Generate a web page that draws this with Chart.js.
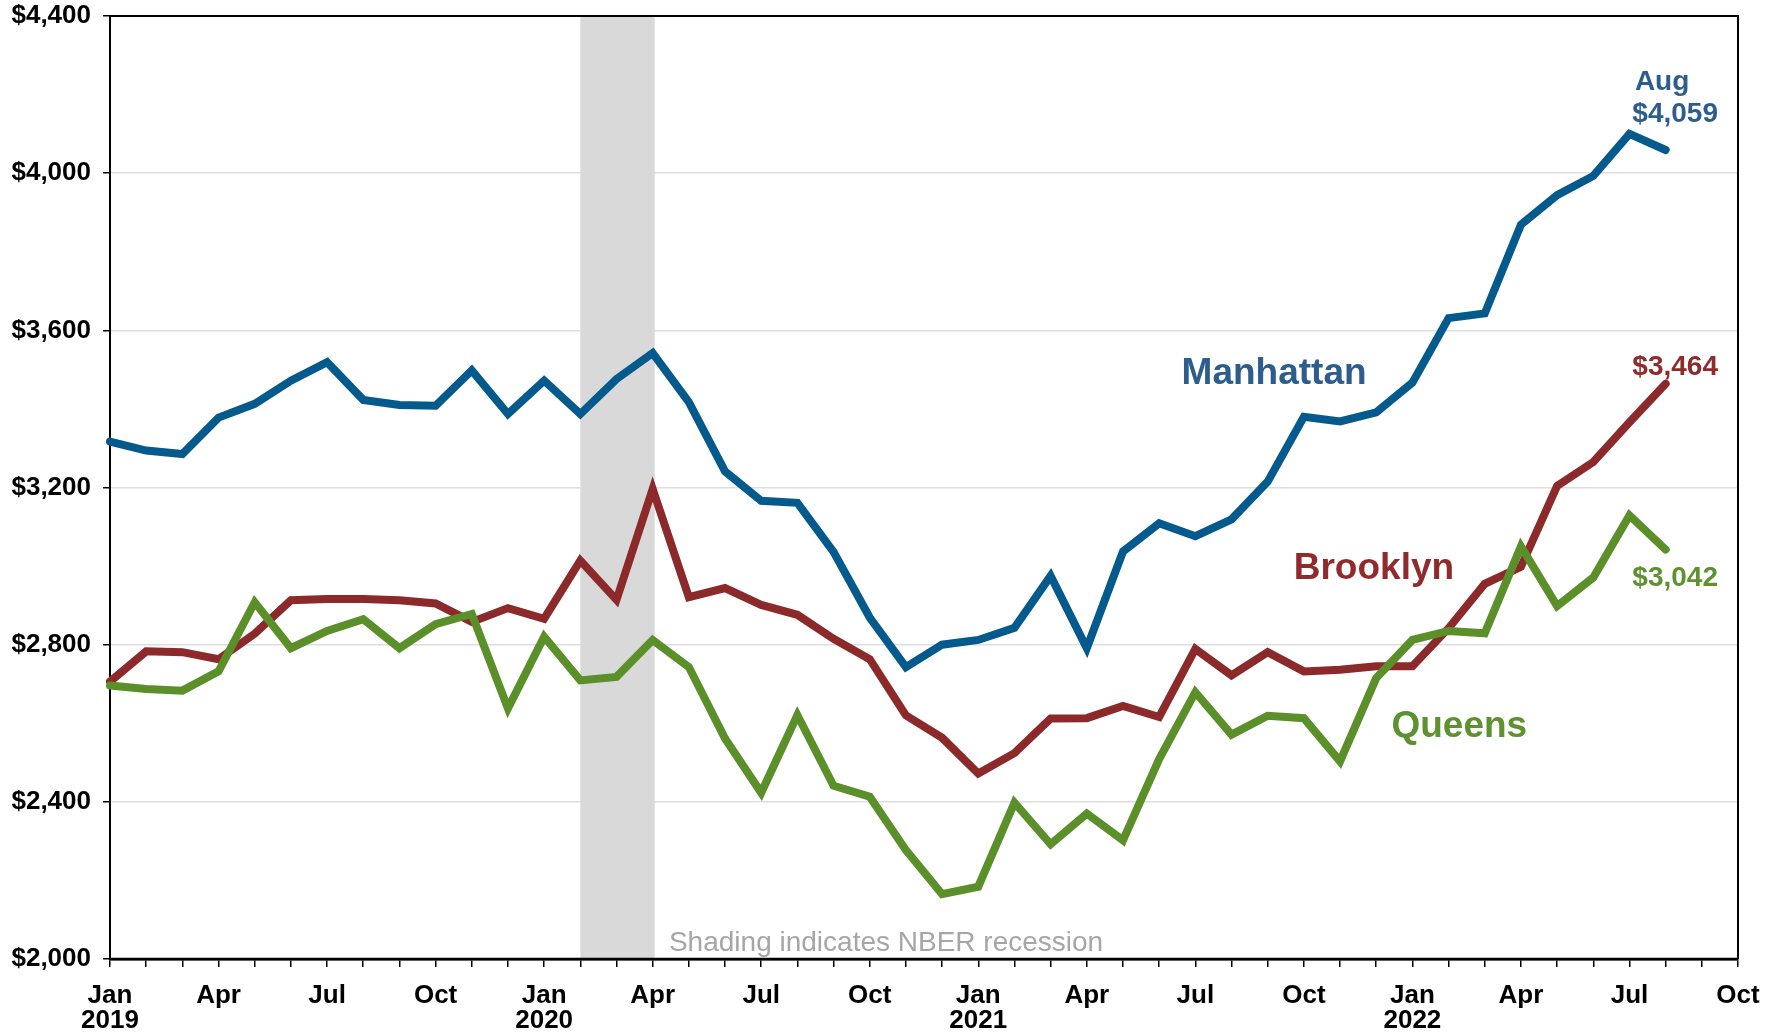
<!DOCTYPE html>
<html>
<head>
<meta charset="utf-8">
<title>Median asking rent by borough</title>
<script src="https://cdn.jsdelivr.net/npm/chart.js@4.4.0/dist/chart.umd.min.js"></script>
<style>
    html, body { margin: 0; padding: 0; background: #fff; }
    #wrap { width: 1781px; height: 1034px; }
</style>
</head>
<body>
<div id="wrap"><canvas id="rentChart" width="1781" height="1034"></canvas></div>
<script>
// Months on the x axis: Jan 2019 .. Oct 2022 (data stops at Aug 2022)
var monthNames = ['Jan', 'Feb', 'Mar', 'Apr', 'May', 'Jun', 'Jul', 'Aug', 'Sep', 'Oct', 'Nov', 'Dec'];
var years = ['2019', '2020', '2021', '2022'];
var months = [];
years.forEach(function (yr) {
    monthNames.forEach(function (m) {
        if (months.length < 46) months.push(m + ' ' + yr);
    });
});

// Median asking rent, dollars per month
var manhattan = [3317, 3294, 3285, 3378, 3413, 3472, 3519, 3423, 3410, 3408, 3498, 3387,
                 3472, 3387, 3476, 3542, 3417, 3241, 3166, 3161, 3036, 2869, 2743, 2800,
                 2812, 2843, 2975, 2791, 3037, 3109, 3076, 3119, 3215, 3380, 3368, 3391,
                 3467, 3631, 3643, 3869, 3944, 3993, 4100, 4059];
var brooklyn = [2706, 2783, 2781, 2763, 2828, 2913, 2916, 2916, 2913, 2905, 2858, 2893,
                2866, 3014, 2914, 3196, 2921, 2944, 2901, 2876, 2815, 2763, 2620, 2563,
                2472, 2524, 2612, 2613, 2644, 2616, 2789, 2722, 2781, 2732, 2736, 2745,
                2745, 2842, 2955, 2998, 3204, 3265, 3366, 3464];
var queens = [2696, 2687, 2683, 2732, 2908, 2791, 2835, 2865, 2791, 2852, 2878, 2638,
              2820, 2709, 2718, 2812, 2743, 2561, 2423, 2621, 2441, 2413, 2277, 2165,
              2184, 2398, 2292, 2370, 2302, 2509, 2679, 2571, 2619, 2613, 2503, 2715,
              2812, 2835, 2829, 3050, 2898, 2971, 3129, 3042];

// NBER recession: Feb 2020 - Apr 2020 (month indexes)
var recession = [13, 15];

var yTicks = [2000, 2400, 2800, 3200, 3600, 4000, 4400];

var BLUE = '#045a8d', BLUE_TXT = '#2c5d8c';
var RED = '#8c2a2b', RED_TXT = '#8f2b2c';
var GREEN = '#5b8f29', GREEN_TXT = '#5e9130';
var FONT = "'Liberation Sans', Arial, Helvetica, sans-serif";

Chart.defaults.font.family = FONT;

function money(v) {
    return '$' + v.toLocaleString('en-US');
}

// grey recession band + plot frame, under the lines
var bandPlugin = {
    id: 'band',
    beforeDatasetsDraw: function (chart) {
        var c = chart.ctx, a = chart.chartArea, x = chart.scales.x;
        var x0 = x.getPixelForValue(recession[0]);
        var x1 = x.getPixelForValue(recession[1]) + 2;
        c.save();
        c.fillStyle = '#d9d9d9';
        c.fillRect(x0, a.top, x1 - x0, a.bottom - a.top);

        c.strokeStyle = '#000';
        c.lineWidth = 2;
        c.beginPath();
        c.moveTo(a.left, a.top);
        c.lineTo(a.right, a.top);
        c.lineTo(a.right, a.bottom);
        c.stroke();
        c.beginPath();
        c.moveTo(a.left, a.top);
        c.lineTo(a.left, a.bottom);
        c.stroke();
        c.lineWidth = 2.5;
        c.beginPath();
        c.moveTo(a.left, a.bottom);
        c.lineTo(a.right, a.bottom);
        c.stroke();

        // note about shading
        c.fillStyle = '#a6a6a6';
        c.font = '28px ' + FONT;
        c.textAlign = 'left';
        c.textBaseline = 'alphabetic';
        c.fillText('Shading indicates NBER recession', x.getPixelForValue(15.45), a.bottom - 8);
        c.restore();
    }
};

// series names and end values
var labelPlugin = {
    id: 'labels',
    afterDatasetsDraw: function (chart) {
        var c = chart.ctx, x = chart.scales.x, y = chart.scales.y;
        var last = manhattan.length - 1;
        var notes = [
            { text: 'Manhattan', i: 29.62, v: 3463, color: BLUE_TXT, size: 37 },
            { text: 'Brooklyn', i: 32.72, v: 2967, color: RED_TXT, size: 37 },
            { text: 'Queens', i: 35.42, v: 2565, color: GREEN_TXT, size: 37 },
            { text: months[last].split(' ')[0], i: 42.15, v: 4212, color: BLUE_TXT, size: 28 },
            { text: money(manhattan[last]), i: 42.08, v: 4130, color: BLUE_TXT, size: 28 },
            { text: money(brooklyn[last]), i: 42.08, v: 3486, color: RED_TXT, size: 28 },
            { text: money(queens[last]), i: 42.08, v: 2949, color: GREEN_TXT, size: 28 }
        ];
        c.save();
        c.textAlign = 'left';
        c.textBaseline = 'alphabetic';
        notes.forEach(function (n) {
            c.fillStyle = n.color;
            c.font = 'bold ' + n.size + 'px ' + FONT;
            c.fillText(n.text, x.getPixelForValue(n.i), y.getPixelForValue(n.v));
        });
        c.restore();
    }
};

var ctx = document.getElementById('rentChart');
var rentChart = new Chart(ctx, {
    type: 'line',
    data: {
        labels: months,
        datasets: [
            { label: 'Queens', data: queens, borderColor: GREEN, order: 0 },
            { label: 'Brooklyn', data: brooklyn, borderColor: RED, order: 1 },
            { label: 'Manhattan', data: manhattan, borderColor: BLUE, order: 2 }
        ]
    },
    options: {
        responsive: false,
        animation: false,
        layout: { padding: { top: 16, right: 43, bottom: 0, left: 0 } },
        plugins: {
            legend: { display: false },
            tooltip: { enabled: false }
        },
        elements: {
            point: { radius: 0, hoverRadius: 0 },
            line: { borderWidth: 8, tension: 0, borderCapStyle: 'round', borderJoinStyle: 'miter' }
        },
        scales: {
            x: {
                offset: false,
                grid: {
                    drawOnChartArea: false,
                    drawTicks: true,
                    tickLength: 8,
                    color: '#000',
                    lineWidth: 1.5
                },
                border: { color: '#000', width: 2.5 },
                ticks: {
                    autoSkip: false,
                    maxRotation: 0,
                    minRotation: 0,
                    padding: 16,
                    color: '#000',
                    font: { size: 26, weight: 'bold', lineHeight: 0.97 },
                    callback: function (value, index) {
                        if (index % 3 !== 0) return '';
                        var parts = months[index].split(' ');
                        return parts[0] === 'Jan' ? [parts[0], parts[1]] : parts[0];
                    }
                },
                afterFit: function (scale) {
                    scale.height = 75;
                    scale.paddingLeft = 0;
                    scale.paddingRight = 0;
                }
            },
            y: {
                min: yTicks[0],
                max: yTicks[yTicks.length - 1],
                grid: {
                    color: '#dedede',
                    lineWidth: 1.5,
                    tickColor: '#000',
                    tickLength: 7,
                    tickWidth: 1.5
                },
                border: { color: '#000', width: 2 },
                ticks: {
                    stepSize: 400,
                    padding: 12,
                    color: '#000',
                    font: { size: 26, weight: 'bold' },
                    callback: function (value) { return money(value); }
                },
                afterBuildTicks: function (scale) {
                    scale.ticks = yTicks.map(function (v) { return { value: v }; });
                },
                afterFit: function (scale) {
                    scale.width = 110;
                    scale.paddingTop = 0;
                    scale.paddingBottom = 0;
                }
            }
        }
    },
    plugins: [bandPlugin, labelPlugin]
});
</script>
</body>
</html>
